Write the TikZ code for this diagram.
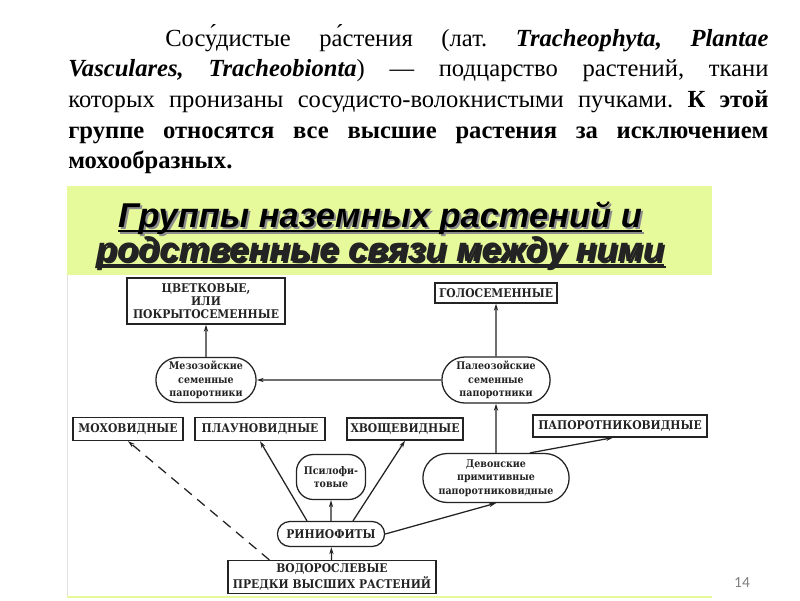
\documentclass[tikz,border=0pt]{standalone}
\usepackage{fontspec}
\setmainfont{Liberation Serif}
\newfontfamily\schemefont{DejaVu Serif Condensed}
\newfontfamily\titlefont{Liberation Sans}
\newfontfamily\pagefont{Carlito}
\usetikzlibrary{arrows.meta, shapes.misc, calc}
\definecolor{titlegreen}{RGB}{230,250,155}
\definecolor{inkgray}{RGB}{35,35,35}
\newcommand{\uln}[1]{\setbox0\hbox{#1}\rlap{\rule[-3.5pt]{\wd0}{1.6pt}}\box0}

\begin{document}
\begin{tikzpicture}[x=0.025cm, y=-0.025cm,
    every node/.style={align=center, text=inkgray},
    caps/.style={rectangle, draw=inkgray, line width=0.9pt, inner sep=1pt, font=\schemefont\bfseries\fontsize{8.5}{9.5}\selectfont},
    oval/.style={rounded rectangle, draw=inkgray, line width=0.9pt, inner sep=1pt, font=\schemefont\bfseries\fontsize{7.5}{9.5}\selectfont},
    soft/.style={rectangle, rounded corners=12pt, draw=inkgray, line width=0.9pt, inner sep=1pt, font=\schemefont\bfseries\fontsize{7.5}{9.5}\selectfont},
    arr/.style={-{Stealth[length=5pt, width=3pt]}, line width=0.9pt, inkgray},
    ttl/.style={font=\titlefont\bfseries\itshape\fontsize{24.5}{22}\selectfont}
]
\useasboundingbox (0,0) rectangle (800,600);
\fill[white] (0,0) rectangle (800,600);

\node[text width=17.5cm, align=justify, anchor=north west, inner sep=0, text=black,
    font=\fontsize{17.5}{21.8}\selectfont\frenchspacing] (intro) at (68, 24)
    {\hspace*{2.425cm}Сосу́дистые ра́стения (лат. \textbf{\textit{Tracheophyta, Plantae}}\linebreak
    \textbf{\textit{Vasculares, Tracheobionta}}) — подцарство растений, ткани\linebreak
    которых пронизаны сосудисто-волокнистыми пучками. \textbf{К этой\linebreak
    группе относятся все высшие растения за исключением\linebreak
    мохообразных.}};

\fill[titlegreen] (67,186) rectangle (712,275);
\node[ttl] (titleshadow) at (382, 237)
    {\color{black!45}\uln{Группы наземных растений и}\\\uln{родственные связи между ними}};
\node[ttl] (title) at (380, 235)
    {\color{black}\uln{Группы наземных растений и}\\\uln{родственные связи между ними}};
\draw[black!12, line width=0.5pt] (67,275) -- (67,597);
\draw[titlegreen, line width=2pt] (67,597) -- (712,597);

\node[caps, minimum width=3.95cm, minimum height=1.15cm] (cvet) at (206, 301) {ЦВЕТКОВЫЕ,\\ИЛИ\\ПОКРЫТОСЕМЕННЫЕ};
\node[caps, minimum width=3.05cm, minimum height=0.5cm] (golos) at (496, 293) {ГОЛОСЕМЕННЫЕ};
\node[oval, minimum width=2.575cm, minimum height=1.125cm] (mezo) at (206, 380) {Мезозойские\\семенные\\папоротники};
\node[oval, minimum width=2.775cm, minimum height=1.15cm] (paleo) at (496, 380) {Палеозойские\\семенные\\папоротники};
\node[caps, minimum width=2.75cm, minimum height=0.575cm] (mox) at (128, 429) {МОХОВИДНЫЕ};
\node[caps, minimum width=3.25cm, minimum height=0.575cm] (plaun) at (260, 429) {ПЛАУНОВИДНЫЕ};
\node[caps, minimum width=2.9cm, minimum height=0.55cm] (hvosch) at (405, 429) {ХВОЩЕВИДНЫЕ};
\node[caps, minimum width=4.35cm, minimum height=0.55cm] (paporot) at (620, 426) {ПАПОРОТНИКОВИДНЫЕ};
\node[soft, minimum width=1.725cm, minimum height=1.125cm] (psilo) at (331, 477) {Псилофи-\\товые};
\node[oval, minimum width=3.725cm, minimum height=1.225cm] (devon) at (496, 478) {Девонские\\примитивные\\папоротниковидные};
\node[oval, font=\schemefont\bfseries\fontsize{8.5}{9.5}\selectfont, minimum width=2.75cm, minimum height=0.625cm] (rinio) at (331, 534) {РИНИОФИТЫ};
\node[caps, minimum width=5.2cm, minimum height=0.825cm] (vodor) at (332, 577) {ВОДОРОСЛЕВЫЕ\\ПРЕДКИ ВЫСШИХ РАСТЕНИЙ};

\draw[arr] (mezo) -- (cvet);
\draw[arr] (paleo) -- (golos);
\draw[arr] (paleo) -- (mezo);
\draw[arr] (devon) -- (paleo);
\draw[arr] ($(devon.north)+(34,0)$) -- ($(paporot.south)+(-7,0)$);
\draw[arr] ($(rinio.north)+(-24,0)$) -- (plaun.south);
\draw[arr] (rinio) -- (psilo);
\draw[arr] ($(rinio.north)+(22,0)$) -- (hvosch.south);
\draw[arr] (rinio.east) -- (devon.south);
\draw[arr] (vodor) -- (rinio);
\draw[arr, dash pattern=on 7pt off 5pt] ($(vodor.north west)+(42,0)$) -- (mox.south);

\node[font=\pagefont\fontsize{11}{11}\selectfont, text=black!50] (pagenum) at (742, 583) {14};
\end{tikzpicture}
\end{document}
